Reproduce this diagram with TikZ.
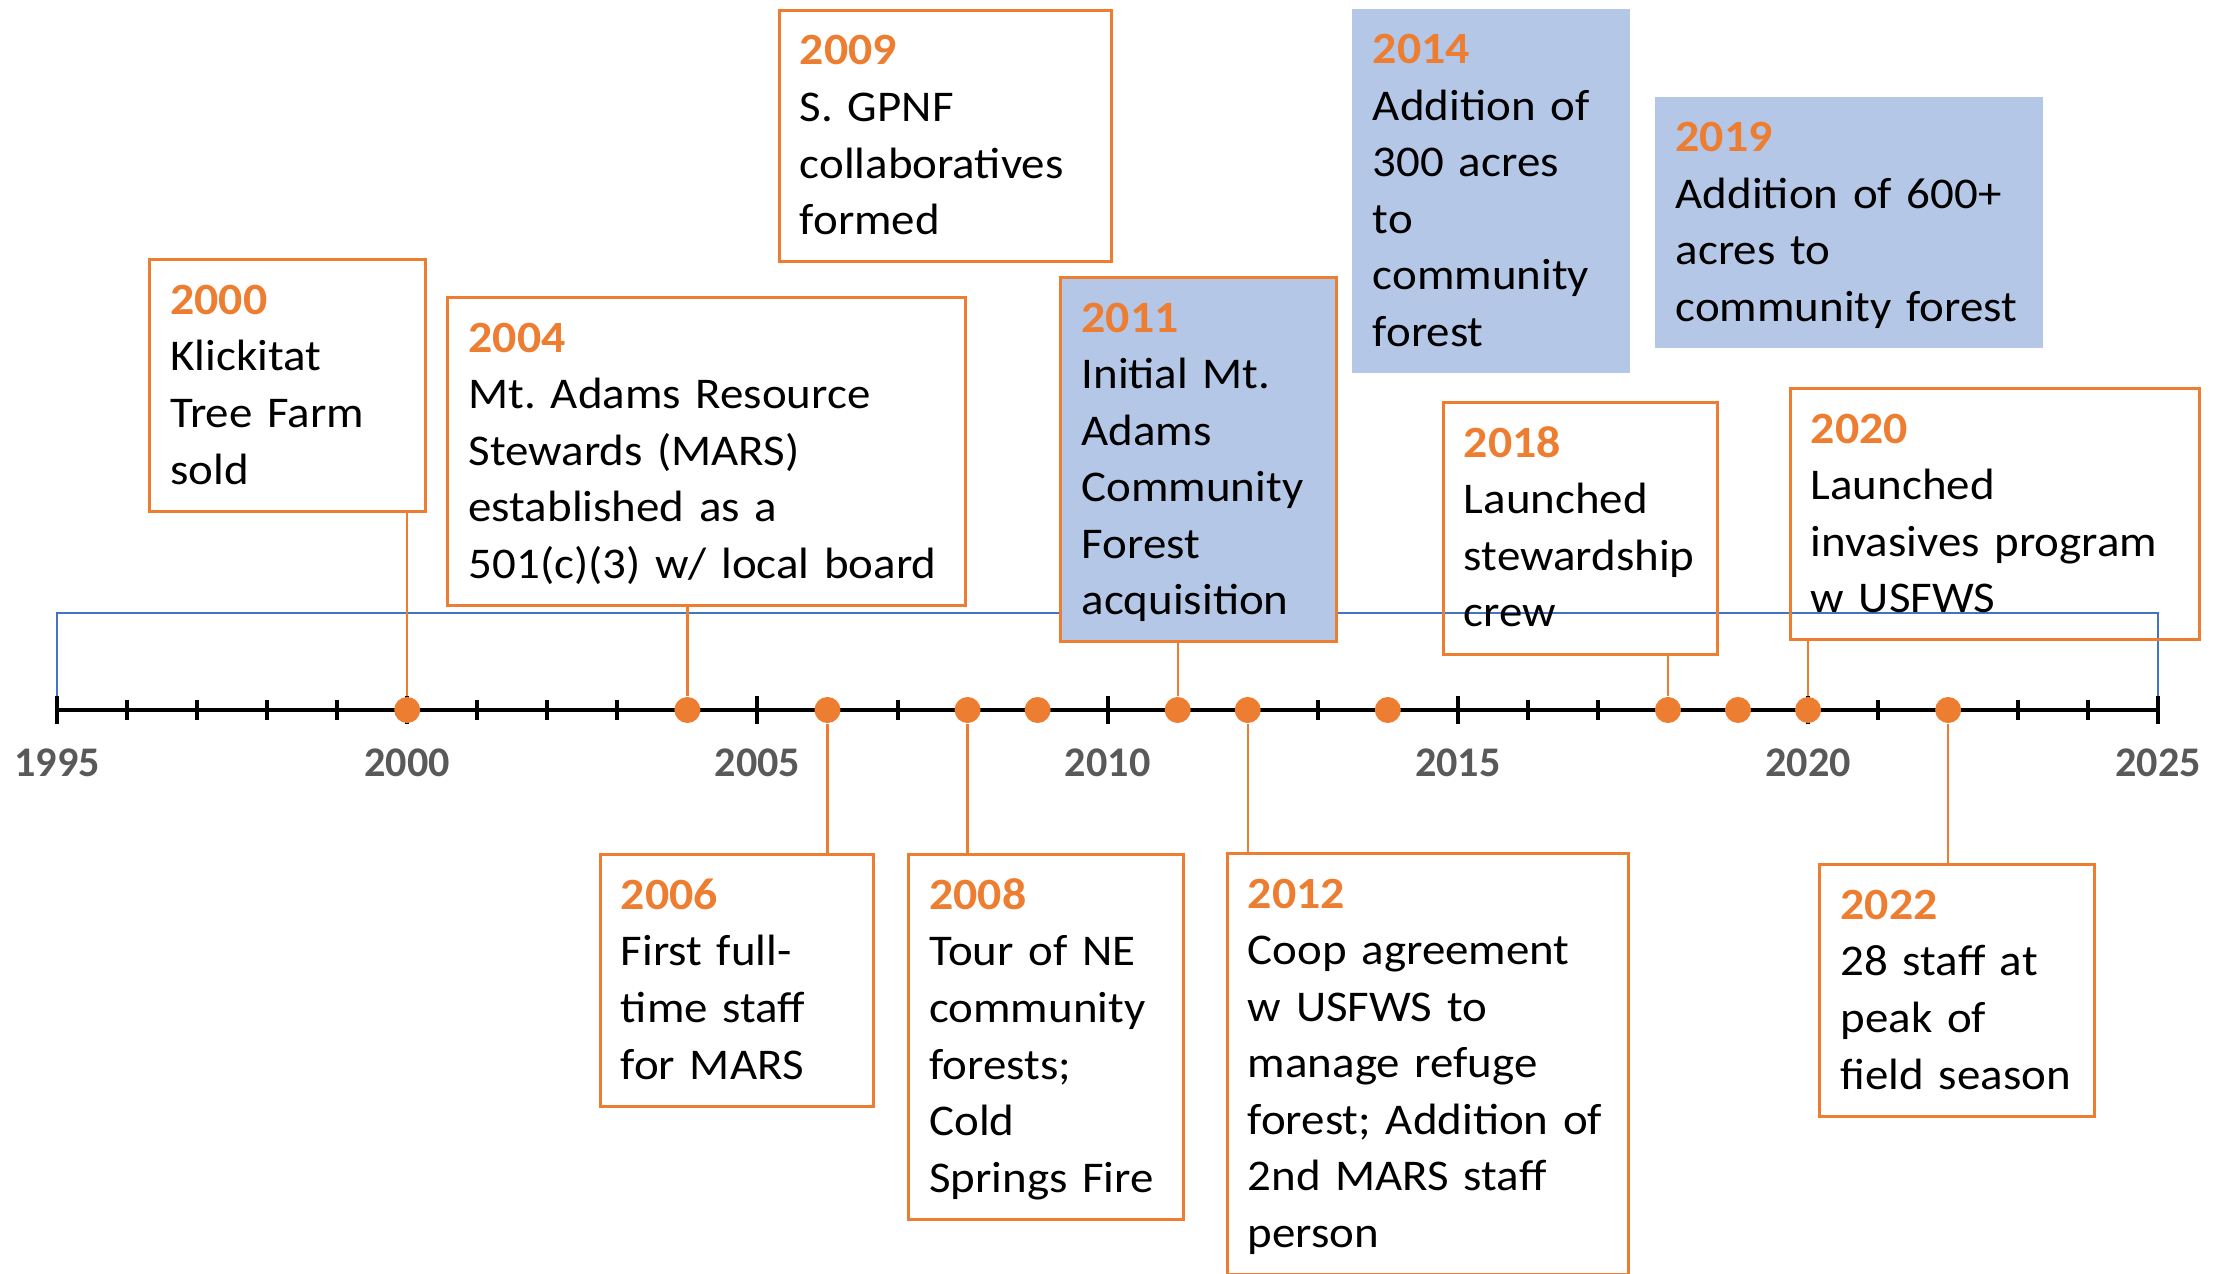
\documentclass[tikz,border=0pt]{standalone}
\usepackage{fontspec}
\setmainfont{Carlito}[FakeStretch=1.07]
\newfontfamily\axisfont{Carlito}
\usepackage{xcolor}
\definecolor{evorange}{HTML}{ED7D31}
\definecolor{evblue}{HTML}{B4C7E7}
\definecolor{rulerblue}{HTML}{4472C4}
\definecolor{labelgray}{HTML}{595959}
\frenchspacing
\newcommand\yr[1]{\rule{0pt}{0.294cm}{\fontsize{8.9}{11.25}\selectfont\bfseries\textcolor{evorange}{#1}}}
\newcommand\dstrut{\rule[-0.1cm]{0pt}{0pt}}
\newcommand\evfont{\fontsize{8.73}{11.25}\selectfont\hyphenpenalty=10000\exhyphenpenalty=10000}

\begin{document}
\begin{tikzpicture}[x=0.01cm,y=-0.01cm,
	evbox/.style={draw=evorange,line width=0.6pt,anchor=north west,align=left,inner xsep=0.145cm,inner ysep=0.09cm,font=\evfont},
	evfill/.style={evbox,fill=evblue},
	evplain/.style={evbox,draw=none,fill=evblue},
	evdot/.style={circle,fill=evorange,inner sep=0pt,minimum size=0.182cm},
	conn/.style={evorange,line width=0.45pt},
	axisline/.style={black,line width=0.8pt},
	bracket/.style={rulerblue,line width=0.4pt},
	axislab/.style={anchor=base,text=labelgray,font={\axisfont\fontsize{8.4}{10}\selectfont\bfseries}}]
	\useasboundingbox (0,0) rectangle (1560,891.6);

	\coordinate (a1995) at (39.9,496.9);
	\coordinate (a2025) at (1510.5,496.9);
	\draw[bracket] (a1995) -- ++(0,-67.9) -| (a2025);
	\draw[axisline] (a1995) -- (a2025);
	\foreach \yy in {1996,...,2024}
		\draw[axisline] ({39.9+(\yy-1995)*49.02},489.9) -- ++(0,14);
	\foreach \yy in {1995,2000,...,2025}
		\draw[axisline] ({39.9+(\yy-1995)*49.02},487.4) -- ++(0,19);
	\foreach \yy in {1995,2000,...,2025}
		\node[axislab] (l\yy) at ({39.9+(\yy-1995)*49.02},543.5) {\yy};

	\node[evbox,text width=1.642cm] (b2000) at (103.6,180.6) {\yr{2000}\\Klickitat\\Tree Farm\\sold\dstrut};
	\node[evbox,text width=3.332cm] (b2004) at (312.4,207) {\yr{2004}\\Mt. Adams Resource\\Stewards (MARS)\\established as a\\501(c)(3) w/ local board\dstrut};
	\node[evbox,text width=2.037cm] (b2009) at (544.3,6) {\yr{2009}\\S. GPNF\\collaboratives\\formed\dstrut};
	\node[evfill,text width=1.639cm] (b2011) at (741.4,193) {\yr{2011}\\Initial Mt.\\Adams\\Community\\Forest\\acquisition\dstrut};
	\node[evplain,text width=1.65cm] (b2014) at (945.3,5) {\yr{2014}\\Addition of\\300 acres\\to\\community\\forest\dstrut};
	\node[evplain,text width=2.426cm] (b2019) at (1157.2,66.7) {\yr{2019}\\Addition of 600+\\acres to\\community forest\dstrut};
	\node[evbox,text width=1.63cm] (b2018) at (1009,280.6) {\yr{2018}\\Launched\\stewardship\\crew\dstrut};
	\node[evbox,text width=2.573cm] (b2020) at (1251.7,270.6) {\yr{2020}\\Launched\\invasives program\\w USFWS\dstrut};
	\node[evbox,text width=1.625cm] (b2006) at (419,597) {\yr{2006}\\First full-\\time staff\\for MARS\dstrut};
	\node[evbox,text width=1.63cm] (b2008) at (634.8,597) {\yr{2008}\\Tour of NE\\community\\forests;\\Cold\\Springs Fire\dstrut};
	\node[evbox,text width=2.516cm] (b2012) at (857.8,596) {\yr{2012}\\Coop agreement\\w USFWS to\\manage refuge\\forest; Addition of\\2nd MARS staff\\person\dstrut};
	\node[evbox,text width=1.63cm] (b2022) at (1272.6,604) {\yr{2022}\\28 staff at\\peak of\\field season\dstrut};

	\foreach \yy in {2000,2004,2006,2008,2009,2011,2012,2014,2018,2019,2020,2022}
		\node[evdot] (d\yy) at ({39.9+(\yy-1995)*49.02},496.9) {};

	\draw[conn] (d2000) -- (d2000 |- b2000.south);
	\draw[conn] (d2004) -- (d2004 |- b2004.south);
	\draw[conn] (d2011) -- (d2011 |- b2011.south);
	\draw[conn] (d2018) -- (d2018 |- b2018.south);
	\draw[conn] (d2020) -- (d2020 |- b2020.south);
	\draw[conn] (d2006) -- (d2006 |- b2006.north);
	\draw[conn] (d2008) -- (d2008 |- b2008.north);
	\draw[conn] (d2012) -- (d2012 |- b2012.north);
	\draw[conn] (d2022) -- (d2022 |- b2022.north);
\end{tikzpicture}
\end{document}
